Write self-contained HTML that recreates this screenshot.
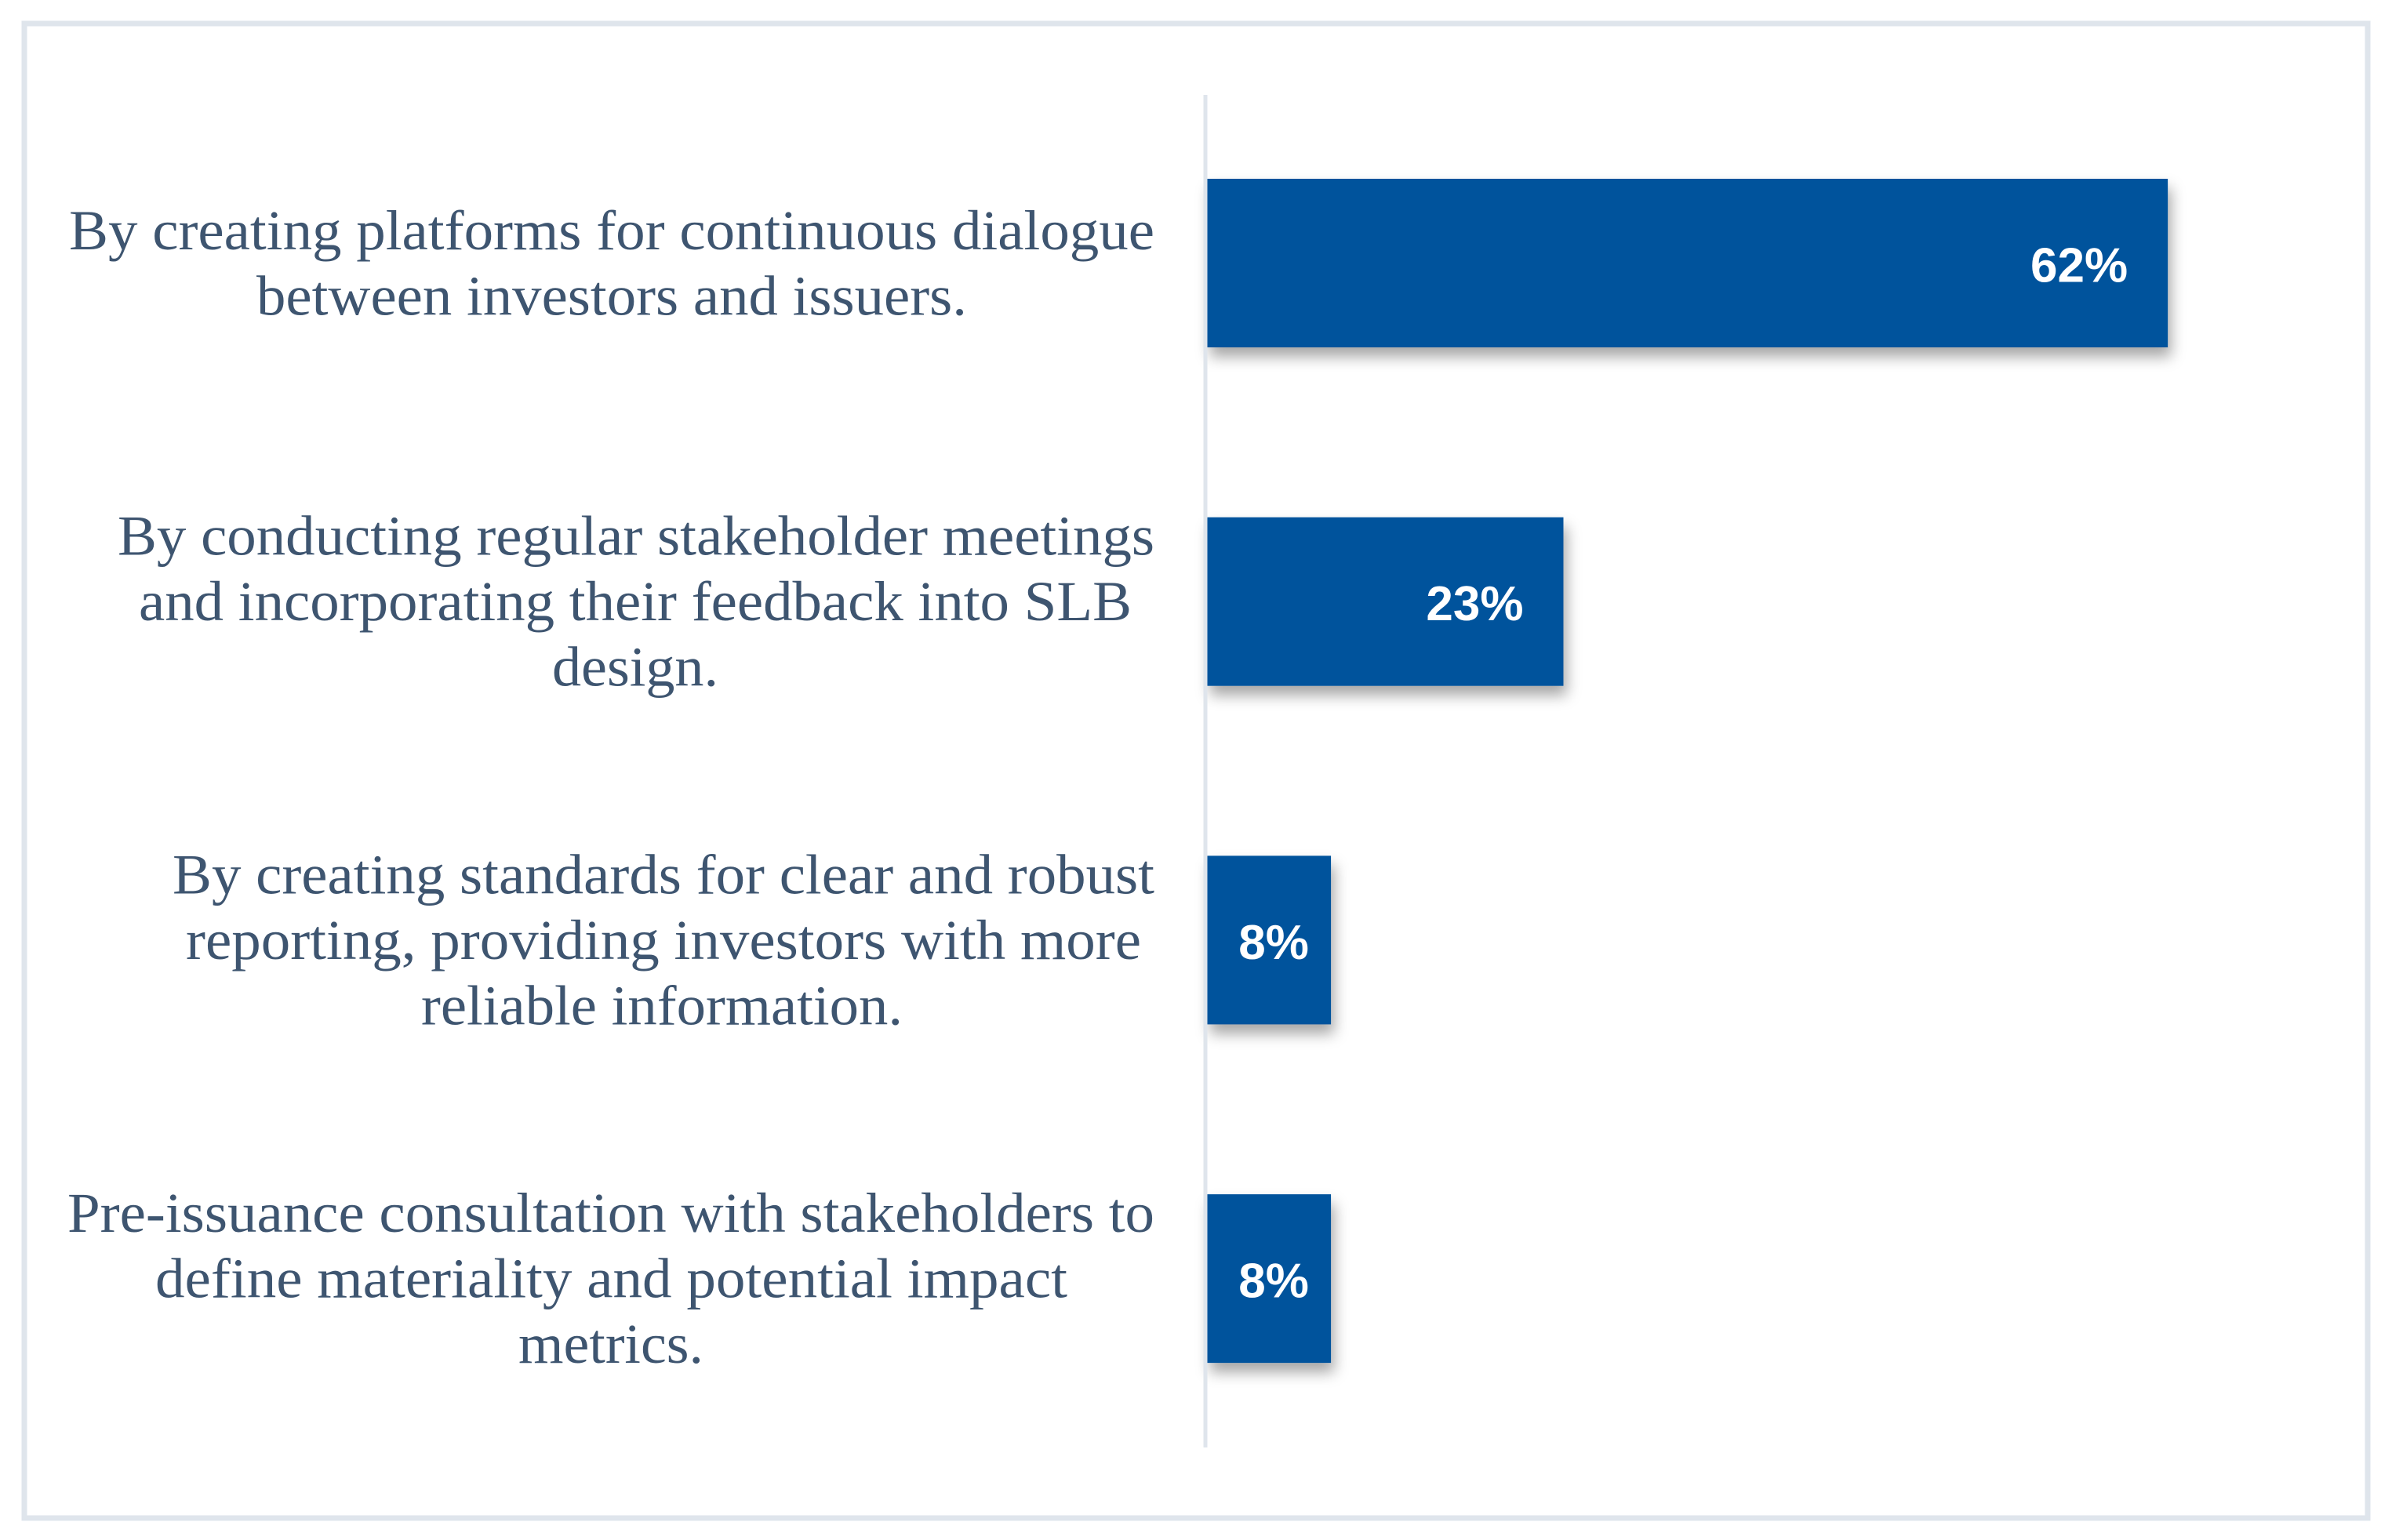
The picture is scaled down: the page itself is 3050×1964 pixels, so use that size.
<!DOCTYPE html>
<html><head><meta charset="utf-8"><style>
html,body{margin:0;padding:0;background:#fff;}
svg{display:block;}
</style></head><body>
<svg id="chart" width="3050" height="1964" viewBox="0 0 3050 1964" xmlns="http://www.w3.org/2000/svg">
<defs>
<filter id="sh" x="-10%" y="-20%" width="130%" height="160%">
<feDropShadow dx="4" dy="12" stdDeviation="9" flood-color="#000" flood-opacity="0.35"/>
</filter>
</defs>
<rect x="31" y="30" width="2988" height="1906" fill="#fff" stroke="#dfe5ec" stroke-width="7"/>
<g id="bars"></g>
<line x1="1537" y1="121" x2="1537" y2="1846" stroke="#dfe5ec" stroke-width="5"/>
<g id="labels"></g>
</svg>
<script>
const categories = [
  ["By creating platforms for continuous dialogue","between investors and issuers."],
  ["By conducting regular stakeholder meetings","and incorporating their feedback into SLB","design."],
  ["By creating standards for clear and robust","reporting, providing investors with more","reliable information."],
  ["Pre-issuance consultation with stakeholders to","define materiality and potential impact","metrics."]
];
const values = [62, 23, 8, 8];
const valueLabels = ["62%","23%","8%","8%"];

const NS = "http://www.w3.org/2000/svg";
const x0 = 1539, pxPerPct = 19.76;
const xScale = v => x0 + v * pxPerPct;
const bandTop = 228, bandStep = 431.7, barH = 215;
const yScale = i => bandTop + i * bandStep;
const lineH = 83.5;
// label text line extents (start x, width) for layout
const lineBoxes = [
  [[88,1384],[327,906]],
  [[150,1322],[177,1266],[704,212]],
  [[220,1252],[237,1218],[537,614]],
  [[86,1386],[198,1163],[661,236]]
];
const barsG = document.getElementById('bars');
const labelsG = document.getElementById('labels');
values.forEach((v, i) => {
  const y = yScale(i);
  const r = document.createElementNS(NS, 'rect');
  
  
  r.setAttribute('x', x0);
  r.setAttribute('y', y);
  r.setAttribute('width', xScale(v) - x0);
  r.setAttribute('height', barH);
  r.setAttribute('fill', '#00539c');
  r.setAttribute('filter', 'url(#sh)');
  barsG.appendChild(r);

  const t = document.createElementNS(NS, 'text');
  
  
  const w = xScale(v) - x0;
  if (w > 250) { t.setAttribute('x', xScale(v) - 51); t.setAttribute('text-anchor', 'end'); }
  else { t.setAttribute('x', x0 + w / 2 + 6); t.setAttribute('text-anchor', 'middle'); }
  t.setAttribute('y', y + barH / 2 + 24);
  t.setAttribute('font-family', '"Liberation Sans", sans-serif');
  t.setAttribute('font-weight', 'bold');
  t.setAttribute('font-size', '62');
  t.setAttribute('fill', '#fff');
  t.textContent = valueLabels[i];
  barsG.appendChild(t);

  const lines = categories[i];
  const n = lines.length;
  const center = y + barH / 2;
  const firstBase = center - (n - 1) * lineH / 2 + 24;
  lines.forEach((ln, j) => {
    const tt = document.createElementNS(NS, 'text');
    
    
    tt.setAttribute('x', lineBoxes[i][j][0]);
    tt.setAttribute('y', firstBase + j * lineH);
    tt.setAttribute('textLength', lineBoxes[i][j][1]);
    tt.setAttribute('lengthAdjust', 'spacingAndGlyphs');
    tt.setAttribute('font-family', '"Liberation Serif", serif');
    tt.setAttribute('font-size', '72');
    tt.setAttribute('fill', '#3e5570');
    tt.textContent = ln;
    labelsG.appendChild(tt);
  });
});
</script>
</body></html>
